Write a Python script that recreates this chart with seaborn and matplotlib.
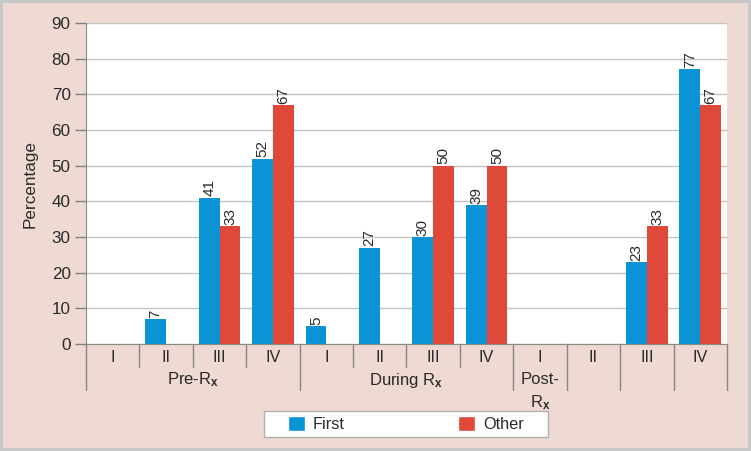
import matplotlib
matplotlib.use("Agg")
import matplotlib.pyplot as plt
import seaborn as sns
import pandas as pd
import numpy as np
from matplotlib.patches import Patch, Rectangle

# ---- data ----
slot_labels = ["I", "II", "III", "IV", "I", "II", "III", "IV", "I", "II", "III", "IV"]
first_vals = [np.nan, 7, 41, 52, 5, 27, 30, 39, np.nan, np.nan, 23, 77]
other_vals = [np.nan, np.nan, 33, 67, np.nan, np.nan, 50, 50, np.nan, np.nan, 33, 67]
series = ["First", "Other"]
group_labels = ["Pre-R$_{\\mathbf{x}}$", "During R$_{\\mathbf{x}}$", "Post-\nR$_{\\mathbf{x}}$"]
group_centers = [1.5, 5.5, 8.0]
long_seps = [-0.5, 3.5, 7.5, 8.5, 9.5, 10.5, 11.5]
short_seps = [0.5, 1.5, 2.5, 4.5, 5.5, 6.5]
colors = ["#0A94D6", "#E0493A"]

slots = [str(i) for i in range(len(slot_labels))]
rows = []
for i, s in enumerate(slots):
    if not np.isnan(first_vals[i]):
        rows.append((s, "First", first_vals[i]))
    if not np.isnan(other_vals[i]):
        rows.append((s, "Other", other_vals[i]))
df = pd.DataFrame(rows, columns=["slot", "series", "value"])

sns.set_style("white")
plt.rcParams["font.family"] = ["Liberation Sans", "DejaVu Sans"]
plt.rcParams["mathtext.fontset"] = "custom"
plt.rcParams["mathtext.rm"] = "Liberation Sans"
plt.rcParams["mathtext.bf"] = "Liberation Sans:bold"
plt.rcParams["mathtext.it"] = "Liberation Sans:italic"

txt = "#2A2A2A"
bg = "#EEDAD2"
fig = plt.figure(figsize=(7.51, 4.51), dpi=100, facecolor=bg)
fig.patch.set_edgecolor("#C8C8C8")
fig.patch.set_linewidth(3)
ax = fig.add_axes([86 / 751, 1 - 344 / 451, (727 - 86) / 751, (344 - 23) / 451])
ax.set_facecolor("white")

sns.barplot(data=df, x="slot", y="value", hue="series", order=slots, hue_order=series,
            palette=colors, width=0.78, dodge=True, ax=ax, legend=False, saturation=1,
            errorbar=None, linewidth=0)

for c in ax.containers:
    ax.bar_label(c, labels=[("%d" % v) if v == v and v > 0 else "" for v in c.datavalues],
                 rotation=90, fontsize=11, padding=1, color=txt)

ax.set_ylim(0, 90)
ax.set_xlim(-0.5, 11.5)
ax.set_yticks(range(0, 91, 10))
ax.yaxis.grid(True, color="#C2C2C2", linewidth=1)
ax.set_axisbelow(True)
ax.tick_params(axis="y", left=True, length=8, width=1, color="#808080", labelsize=12.3, pad=3,
               labelcolor=txt)
ax.set_xticks([])
ax.set_xlabel("")
ax.set_ylabel("Percentage", fontsize=12.3, labelpad=10, color=txt)
for sp in ["top", "right"]:
    ax.spines[sp].set_visible(False)
ax.spines["left"].set_color("#888888")
ax.spines["bottom"].set_color("#888888")

trans = ax.get_xaxis_transform()
h = 321.0
for x in long_seps:
    ax.plot([x, x], [0, -46 / h], transform=trans, color="#888888", lw=1, clip_on=False)
for x in short_seps:
    ax.plot([x, x], [0, -23 / h], transform=trans, color="#888888", lw=1, clip_on=False)
for i, lab in enumerate(slot_labels):
    ax.text(i, -13 / h, lab, transform=trans, ha="center", va="center", fontsize=11.7,
            color=txt)
ax.text(group_centers[0], -36 / h, group_labels[0], transform=trans, ha="center", va="center",
        fontsize=12, color=txt)
ax.text(group_centers[1], -36 / h, group_labels[1], transform=trans, ha="center", va="center",
        fontsize=12, color=txt)
ax.text(group_centers[2], -28 / h, group_labels[2], transform=trans, ha="center", va="top",
        fontsize=12, color=txt, linespacing=1.45)

# legend box
fig.patches.append(Rectangle((264 / 751, 1 - 437 / 451), 284 / 751, 26 / 451,
                             transform=fig.transFigure, facecolor="white",
                             edgecolor="#B0B0B0", linewidth=1, zorder=0))
handles = [Patch(facecolor=colors[0]), Patch(facecolor=colors[1])]
leg = fig.legend(handles, series, loc="center", bbox_to_anchor=(406 / 751, 1 - 424 / 451),
                 ncol=2, frameon=False, fontsize=11.7, labelcolor=txt,
                 columnspacing=7.0, handlelength=1.0, handleheight=1.0, handletextpad=0.5,
                 borderpad=0.2, borderaxespad=0)

fig.savefig("out.png", dpi=100, facecolor=bg, edgecolor=fig.patch.get_edgecolor())
